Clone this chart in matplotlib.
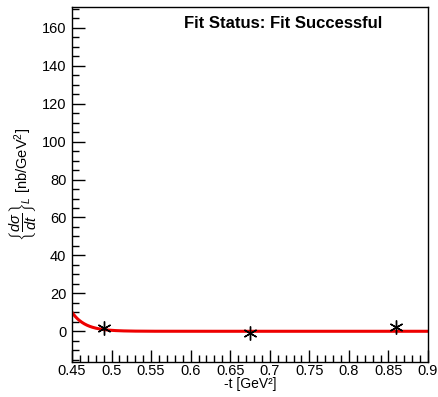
import numpy as np
import matplotlib
matplotlib.use("Agg")
import matplotlib.pyplot as plt
from matplotlib.ticker import MultipleLocator

plt.rcParams['font.family'] = ['Liberation Sans', 'DejaVu Sans']
plt.rcParams['mathtext.fontset'] = 'custom'
plt.rcParams['mathtext.rm'] = 'Liberation Sans'
plt.rcParams['mathtext.it'] = 'Liberation Sans:italic'

# data points
t_vals = [0.49, 0.675, 0.86]
sig_vals = [1.5, -0.8, 2.5]
sig_errs = [0.6, 0.6, 0.8]

# fit curve parameters (exponential): A * exp(-B * (t - t0))
fit_A = 10.0
fit_B = 60.0
fit_t0 = 0.45
fit_range = [0.45, 0.9]

fig = plt.figure(figsize=(4.38, 3.97), dpi=100)
ax = fig.add_axes([72/438, 1 - 362/397, (428-72)/438, (362-7)/397])

tt = np.linspace(fit_range[0], fit_range[1], 400)
ax.plot(tt, fit_A * np.exp(-fit_B * (tt - fit_t0)), color='#ee0000', lw=2.2, zorder=2)

ax.errorbar(t_vals, sig_vals, yerr=sig_errs, fmt='none', ecolor='black', elinewidth=1, zorder=3)
ax.plot(t_vals, sig_vals, linestyle='none', marker=(6, 2, 0), markersize=10,
        color='black', markeredgewidth=1.0, zorder=4)

ax.set_xlim(0.45, 0.9)
ax.set_ylim(-16.2, 171)
ax.xaxis.set_major_locator(MultipleLocator(0.05))
ax.xaxis.set_minor_locator(MultipleLocator(0.01))
ax.yaxis.set_major_locator(MultipleLocator(20))
ax.yaxis.set_minor_locator(MultipleLocator(5))
ax.set_xticks([0.45, 0.5, 0.55, 0.6, 0.65, 0.7, 0.75, 0.8, 0.85, 0.9])
ax.set_xticklabels(['0.45', '0.5', '0.55', '0.6', '0.65', '0.7', '0.75', '0.8', '0.85', '0.9'])
ax.tick_params(axis='both', which='both', direction='in', top=False, right=False, labelsize=10.5)
ax.tick_params(axis='both', which='major', length=9, width=1)
ax.tick_params(axis='both', which='minor', length=5, width=1)
ax.tick_params(axis='x', pad=1.5)
ax.tick_params(axis='y', pad=4)
for s in ax.spines.values():
    s.set_linewidth(1)

ax.set_xlabel('-t [GeV²]', fontsize=10, labelpad=-1)
ax.set_ylabel(r'$\left\{\dfrac{d\sigma}{dt}\right\}_L$ [nb/GeV$^2$]', fontsize=10.5, labelpad=2)

ax.text(0.593, 0.975, 'Fit Status: Fit Successful', transform=ax.transAxes,
        fontsize=12, fontweight='bold', ha='center', va='top')

fig.savefig('out.png', dpi=100)
